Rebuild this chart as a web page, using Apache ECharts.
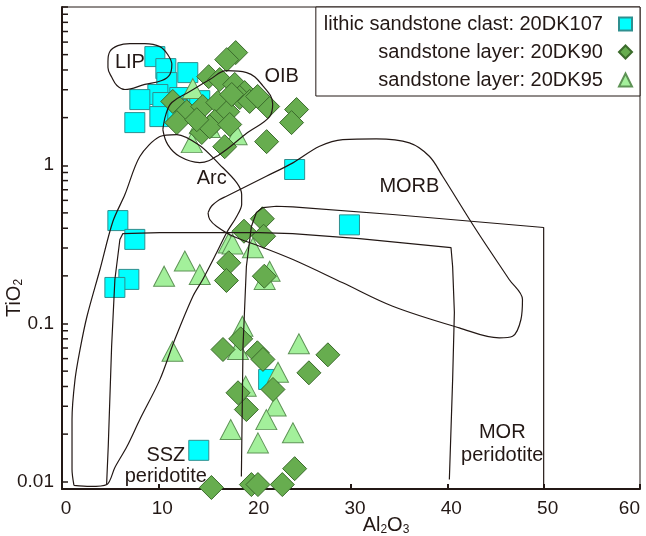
<!DOCTYPE html>
<html><head><meta charset="utf-8">
<script src="https://cdn.jsdelivr.net/npm/echarts@6/dist/echarts.min.js"></script>
<style>html,body{margin:0;padding:0;background:#fff}#c{width:646px;height:536px}</style>
</head><body><div id="c"></div>
<script>
// ---------- data (Al2O3, TiO2) ----------
const xTickLabels = ['0','10','20','30','40','50','60'];
const yTickLabels = ['0.01','0.1','1'];
const yMinorTicks = [0.02,0.03,0.04,0.05,0.06,0.07,0.08,0.09,0.2,0.3,0.4,0.5,0.6,0.7,0.8,0.9,2,3,4,5,6,7,8,9];

const seriesNames = ['lithic sandstone clast: 20DK107','sandstone layer: 20DK90','sandstone layer: 20DK95'];

const clast20DK107 = [
  [9.64,4.86],[13.06,3.85],[10.78,4.08],[10.88,3.33],[9.95,2.80],[8.08,2.60],[10.47,2.49],
  [12.23,2.68],[14.30,2.56],[10.16,2.03],[7.56,1.86],[12.02,2.25],[24.15,0.94],[29.84,0.42],
  [5.80,0.447],[7.56,0.34],[6.94,0.19],[5.49,0.169],[21.45,0.0443],[14.20,0.0158]
];
const layer20DK90 = [
  [18.03,5.15],[17.10,4.65],[15.23,3.63],[16.37,3.48],[17.93,3.24],[18.96,2.88],[18.45,2.68],
  [19.48,2.53],[21.35,2.35],[24.35,2.25],[23.83,1.86],[21.24,1.41],[16.89,1.31],[11.50,2.53],
  [12.95,2.18],[11.92,1.86],[14.61,2.35],[16.17,2.49],[17.20,2.18],[15.85,1.89],[14.51,1.61],
  [15.34,1.75],[13.99,1.94],[17.41,1.81],[20.31,2.72],[17.62,2.80],
  [20.80,0.459],[18.89,0.383],[20.93,0.356],[17.31,0.242],[17.07,0.187],[21.0,0.199],
  [18.55,0.080],[16.71,0.0685],[20.28,0.0653],[20.86,0.0593],[27.60,0.0634],[25.63,0.0488],
  [21.90,0.0383],[18.27,0.0365],[19.14,0.0286],[24.15,0.0121],[15.51,0.0092],[19.66,0.0096],
  [20.34,0.0096],[22.87,0.0096]
];
const layer20DK95 = [
  [13.47,1.39],[18.13,1.56],[13.58,3.05],[14.30,1.83],[15.34,1.73],
  [17.31,0.323],[17.70,0.318],[19.82,0.301],[12.75,0.248],[10.60,0.199],[14.30,0.204],
  [21.55,0.214],[21.04,0.190],[11.47,0.0668],[18.73,0.0962],[18.27,0.0685],[24.59,0.0744],
  [22.42,0.0492],[19.07,0.0402],[22.18,0.0301],[21.21,0.0247],[17.51,0.0214],[23.97,0.0204],
  [20.34,0.0176]
];

// field boundaries
const lipField = [
  [4.77,4.52],[4.97,5.23],[5.80,5.70],[7.05,5.87],[8.60,5.87],[10.16,5.62],[10.98,5.00],
  [11.40,4.33],[11.19,3.74],[10.36,3.43],[8.60,3.24],[6.53,3.01],[5.70,3.19],[5.18,3.58],[4.77,4.14]
];
const oibField = [
  [10.47,1.68],[10.78,2.09],[11.40,2.49],[13.26,2.92],[15.34,3.48],[17.10,3.96],[19.17,3.85],
  [20.83,3.19],[21.87,2.45],[21.55,2.03],[19.27,1.61],[16.17,1.15],[14.30,1.04],[12.23,1.135],[10.98,1.35]
];
const arcField = [
  [1.24,0.00948],[1.04,0.01196],[1.04,0.02474],[1.35,0.0442],[1.87,0.0684],[2.59,0.1107],
  [3.94,0.2194],[5.28,0.441],[6.53,0.653],[8.08,1.135],[10.16,1.518],[11.92,1.563],[14.30,1.332],
  [16.37,1.010],[18.13,0.7776],[18.65,0.653],[18.65,0.5647],[18.13,0.4742],[17.10,0.3757],
  [16.06,0.2809],[14.61,0.1897],[13.58,0.1482],[11.71,0.0792],[10.16,0.0442],[8.08,0.02474],
  [6.74,0.0167],[5.49,0.01231],[4.66,0.00961],[2.90,0.00934]
];
const morbField = [
  [15.16,0.5005],[15.51,0.5508],[16.37,0.607],[17.07,0.637],[21.21,0.852],[23.97,1.0355],
  [26.74,1.318],[29.15,1.453],[32.61,1.468],[36.06,1.385],[38.13,1.14],[39.51,0.852],
  [42.97,0.3925],[46.42,0.1897],[47.80,0.1417],[47.64,0.106],[46.77,0.0831],[45.39,0.0812],
  [41.24,0.0939],[34.33,0.1286],[29.15,0.1808],[23.97,0.2536],[20.52,0.3078],[17.75,0.356],
  [16.03,0.4118],[15.34,0.454]
];
const sszPeridotite = [
  [4.63,0.00961],[4.80,0.0167],[5.15,0.0716],[5.49,0.1897],[6.01,0.3393],[6.32,0.3703],
  [10.16,0.3757],[17.10,0.3757],[20.52,0.3757],[23.94,0.3703],[30.88,0.344],[40.38,0.302],
  [40.55,0.2292],[40.73,0.1173],[40.55,0.0442],[40.21,0.01034]
];
const morPeridotite = [
  [18.62,0.0108],[18.79,0.0716],[19.14,0.2292],[19.66,0.4101],[20.18,0.5027],[20.86,0.5405],
  [22.25,0.5508],[23.97,0.546],[34.33,0.4883],[50,0.4042],[50,0.00934]
];
const fieldLabels = [
  ['LIP',7.05,4.45],['OIB',22.8,3.63],['Arc',15.54,0.824],['MORB',36.06,0.733],
  ['SSZ',10.78,0.01466],['peridotite',10.78,0.0108],['MOR',45.7,0.0205],['peridotite',45.7,0.01466]
];

// ---------- chart ----------
const INK = '#231815';
const FONT = '"Liberation Sans", Arial, Helvetica, sans-serif';
const chart = echarts.init(document.getElementById('c'), null, {renderer:'canvas'});

function fieldLine(data, closed, smooth){
  return {
    type:'line', data: closed ? data.concat([data[0]]) : data, smooth: smooth,
    symbol:'none', silent:true, z:10, clip:true,
    lineStyle:{color:INK, width:1.2}
  };
}

const option = {
  animation:false,
  backgroundColor:'#fff',
  grid:{left:62, right:6, top:7, bottom:47, containLabel:false, outerBoundsMode:'none',
        show:true, borderColor:INK, borderWidth:1},
  legend:{
    data:[{name:seriesNames[0], icon:'rect'},{name:seriesNames[1], icon:'diamond'},{name:seriesNames[2], icon:'triangle'}],
    orient:'vertical', align:'right', right:6, top:7,
    padding:[7,7,6,8], itemGap:8, itemWidth:13, itemHeight:13,
    borderColor:INK, borderWidth:1, backgroundColor:'#fff',
    formatter: n => n + '  ',
    textStyle:{fontSize:20, color:INK, fontFamily:FONT},
    selectedMode:false
  },
  xAxis:{
    type:'value', min:0, max:60, interval:10,
    axisLine:{show:true, lineStyle:{color:INK, width:2}},
    axisTick:{show:true, inside:true, length:5, lineStyle:{color:INK, width:2}},
    axisLabel:{fontSize:19, color:INK, fontFamily:FONT, margin:10, padding:[0,0,0,8],
      alignMaxLabel:'right',
      formatter: v => xTickLabels[Math.round(v/10)] || ''},
    splitLine:{show:false},
    name:'{n|Al}{s|2}{n|O}{s|3}', nameLocation:'middle', nameGap:25, nameMoveOverlap:false,
    nameTextStyle:{padding:[0,0,0,70], rich:{
      n:{fontSize:20, color:INK, fontFamily:FONT},
      s:{fontSize:12, color:INK, fontFamily:FONT, padding:[10,0,0,0]}
    }}
  },
  yAxis:{
    type:'log', logBase:10, min:0.009, max:10,
    axisLine:{show:true, lineStyle:{color:INK, width:2}},
    axisTick:{show:true, inside:true, length:6, lineStyle:{color:INK, width:1.5}},
    axisLabel:{fontSize:19, color:INK, fontFamily:FONT, margin:8,
      formatter: v => { const e = Math.log10(v); const r = Math.round(e);
        if (Math.abs(e-r) > 1e-6) return ''; return yTickLabels[r+2] || ''; }},
    splitLine:{show:false}, minorTick:{show:false},
    name:'{n|TiO}{s|2}', nameLocation:'middle', nameGap:37, nameMoveOverlap:false,
    nameTextStyle:{padding:[0,100,0,0], rich:{
      n:{fontSize:20, color:INK, fontFamily:FONT},
      s:{fontSize:12, color:INK, fontFamily:FONT, padding:[10,0,0,0]}
    }}
  },
  series:[
    {name:seriesNames[0], type:'scatter', data:clast20DK107, symbol:'rect', symbolSize:20, z:3,
     itemStyle:{color:'#00ffff', borderColor:'#2f8f8f', borderWidth:1, opacity:1}},
    {name:seriesNames[2], type:'scatter', data:layer20DK95, symbol:'triangle', symbolSize:[21,20], z:4,
     itemStyle:{color:'#a3f09b', borderColor:'#5e9356', borderWidth:1, opacity:1}},
    {name:seriesNames[1], type:'scatter', data:layer20DK90, symbol:'diamond', symbolSize:24, z:5,
     itemStyle:{color:'#67ad4f', borderColor:'#3b6b2c', borderWidth:1, opacity:1}},
    fieldLine(lipField, true, 0.4),
    fieldLine(oibField, true, 0.4),
    fieldLine(arcField, true, 0.3),
    fieldLine(morbField, true, 0.35),
    fieldLine(sszPeridotite, false, false),
    fieldLine(morPeridotite, false, false),
    {type:'scatter', silent:true, z:11, symbolSize:0, itemStyle:{opacity:1},
     data: fieldLabels.map(d => ({name:d[0], value:[d[1], d[2]]})),
     label:{show:true, position:'inside', formatter: p => p.name, fontSize:20, color:INK,
            fontFamily:FONT, textBorderWidth:0, opacity:1}},
    {type:'custom', silent:true, z:12, clip:false,
     data: yMinorTicks.map(v => [0, v]),
     renderItem:(params, api) => {
       const p = api.coord([api.value(0), api.value(1)]);
       return {type:'line', shape:{x1:p[0], y1:p[1], x2:p[0]+6, y2:p[1]},
               style:{stroke:INK, lineWidth:1.5}};
     }}
  ]
};
chart.setOption(option);
</script></body></html>
